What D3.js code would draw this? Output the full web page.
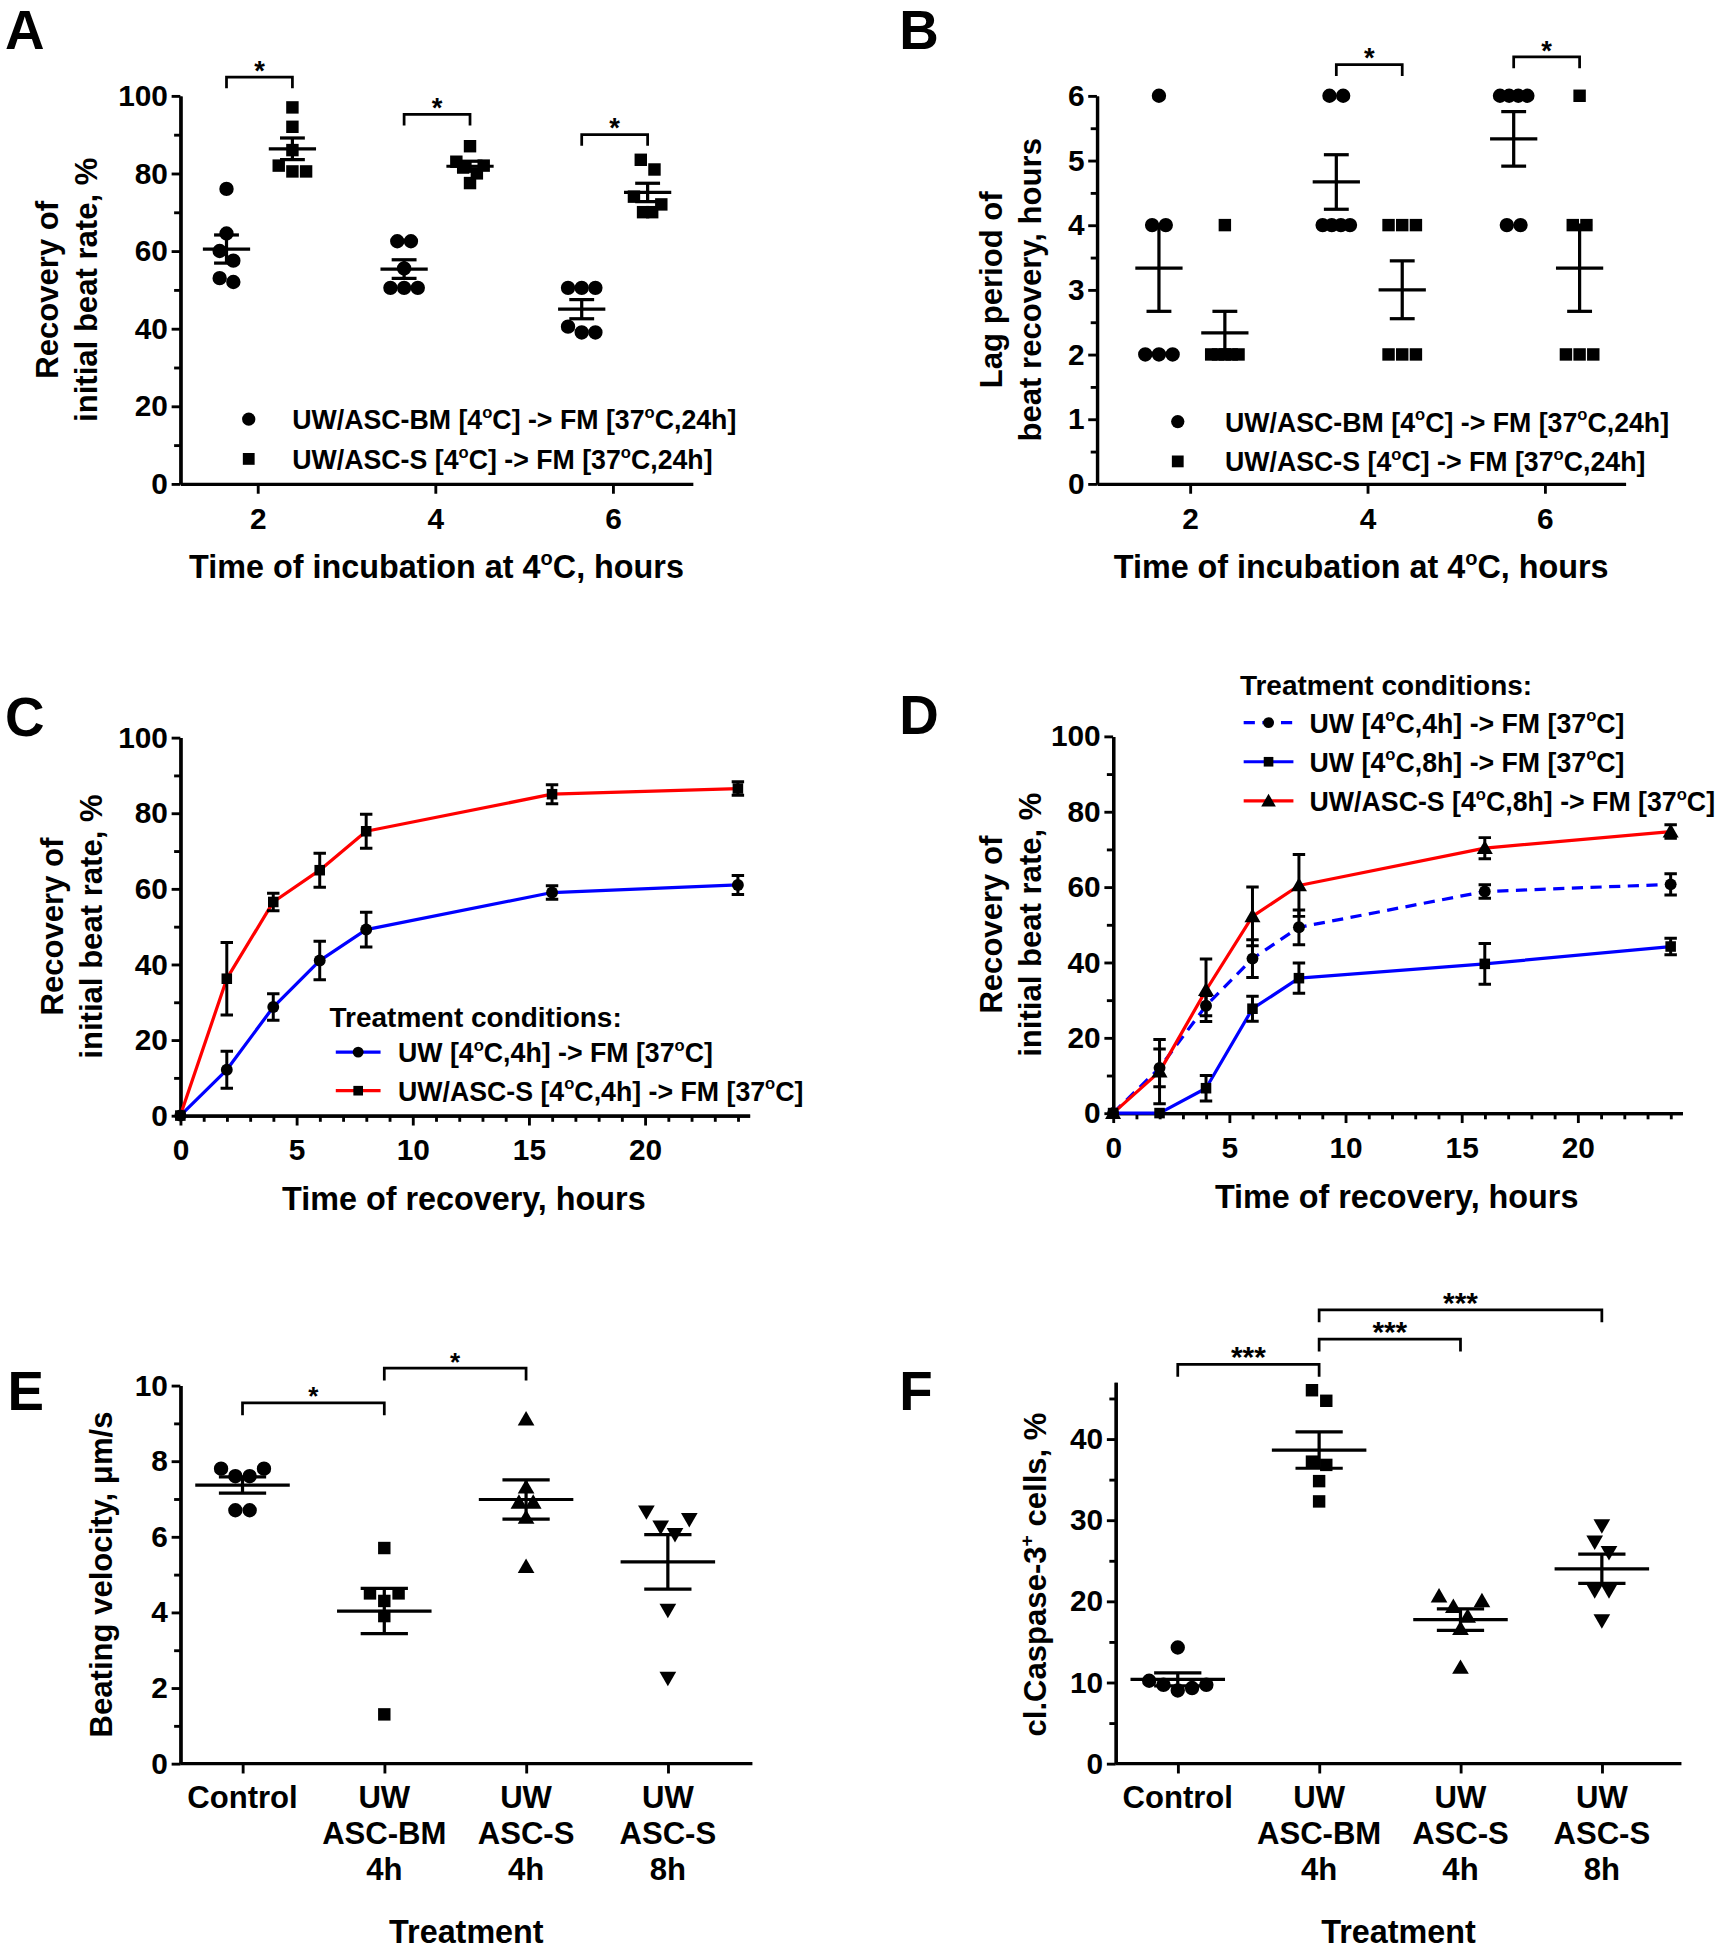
<!DOCTYPE html>
<html><head><meta charset="utf-8">
<script src="https://cdn.jsdelivr.net/npm/d3@7"></script>
<style>
body{margin:0;background:#fff}
text{font-family:"Liberation Sans",Arial,Helvetica,sans-serif;font-weight:bold;fill:#000}
</style>
</head><body><script>
// ---------------- DATA ----------------
const incubationHours = [2, 4, 6];
const recoveryBM = [[76, 64.5, 60, 57.5, 53, 52], [62.5, 62.5, 55.5, 50.5, 50.5, 50.5], [50.5, 50.5, 50.5, 40.5, 39, 39]];
const recoveryS  = [[97, 92, 86, 82, 80.5, 80.5], [87, 83, 82, 81.5, 80, 77.5], [83.5, 81, 74, 72, 70, 70]];
const lagBM = [[6, 4, 4, 2, 2, 2], [6, 6, 4, 4, 4, 4], [6, 6, 6, 6, 4, 4]];
const lagS  = [[4, 2, 2, 2, 2, 2], [4, 4, 4, 2, 2, 2], [6, 4, 4, 2, 2, 2]];
const sigA = [{h: 2, level: 104.8, label: "*"}, {h: 4, level: 95.2, label: "*"}, {h: 6, level: 90, label: "*"}];
const sigB = [{h: 4, level: 6.48, label: "*"}, {h: 6, level: 6.6, label: "*"}];
const legendAB = ["UW/ASC-BM [4°C] -> FM [37°C,24h]", "UW/ASC-S [4°C] -> FM [37°C,24h]"];

const recoveryTimes = [0, 2, 4, 6, 8, 16, 24];
const cUW4hMean   = [0, 12.1, 28.7, 41, 49.2, 59, 61];
const cUW4hSem    = [0, 4.9, 3.5, 5.1, 4.6, 1.8, 2.5];
const cASCS4hMean = [0, 36.2, 56.5, 64.9, 75.2, 85, 86.5];
const cASCS4hSem  = [0, 9.6, 2.3, 4.5, 4.5, 2.5, 1.8];
const legendC = ["UW [4°C,4h] -> FM [37°C]", "UW/ASC-S [4°C,4h] -> FM [37°C]"];

const dUW4hMean   = [0, 12, 28.5, 41, 49.3, 58.8, 60.7];
const dUW4hSem    = [0, 5, 2.7, 5, 4.6, 1.8, 2.8];
const dUW8hMean   = [0, 0, 6.6, 27.7, 35.8, 39.6, 44.2];
const dUW8hSem    = [0, 0, 3.4, 3.3, 4, 5.4, 2.2];
const dASCS8hMean = [0, 11, 32.6, 52.2, 60.4, 70.3, 74.7];
const dASCS8hSem  = [0, 8.5, 8.3, 7.8, 8.2, 2.8, 1.8];
const legendD = ["UW [4°C,4h] -> FM [37°C]", "UW [4°C,8h] -> FM [37°C]", "UW/ASC-S [4°C,8h] -> FM [37°C]"];

const treatments = [["Control"], ["UW", "ASC-BM", "4h"], ["UW", "ASC-S", "4h"], ["UW", "ASC-S", "8h"]];
const velocity = [[7.8, 7.8, 7.6, 7.6, 6.7, 6.7], [5.7, 4.5, 4.5, 4.3, 3.9, 1.3], [9.1, 7.3, 6.9, 6.9, 6.5, 5.2], [6.7, 6.5, 6.3, 6.1, 4.1, 2.3]];
const caspase = [[14.3, 10.2, 9.7, 9.7, 9.3, 9.0], [46, 44.7, 37.2, 36.8, 34.8, 32.3], [20.6, 20, 19.3, 18.1, 16.6, 11.8], [29.5, 27.5, 26.2, 21.5, 21.5, 17.8]];
const sigE = [{a: 0, b: 1, level: 9.54, label: "*"}, {a: 1, b: 2, level: 10.46, label: "*"}];
const sigF = [{a: 0, b: 1, level: 49.2, label: "***"}, {a: 1, b: 2, level: 52.3, label: "***"}, {a: 1, b: 3, level: 55.9, label: "***"}];

// ---------------- SETUP ----------------
const S = 1720 / 1383;
const svg = d3.select("body").append("svg").attr("width", 1720).attr("height", 1950);
svg.append("rect").attr("width", 1720).attr("height", 1950).attr("fill", "#fff");
const root = svg.append("g").attr("transform", `scale(${S})`);

const TICK_FS = 24, XT_FS = 26, YT_FS = 25, LEG_FS = 21.5, LEGT_FS = 22.5, LETTER_FS = 44, CAT_FS = 25, AX_W = 2.6;

function rich(t, str, fs) {
  const parts = str.split(/(°|\^\+)/);
  let back = 0;
  parts.forEach(p => {
    if (!p) return;
    if (p === "°" || p === "^+") {
      t.append("tspan").text(p === "°" ? "o" : "+").attr("font-size", fs * 0.62).attr("dy", back ? 0 : -fs * 0.42);
      back = fs * 0.42;
    } else {
      const s = t.append("tspan").text(p);
      if (back) { s.attr("dy", back); back = 0; }
    }
  });
  return t;
}
function txt(g, x, y, str, fs, anchor = "start", rot = false) {
  const t = g.append("text").attr("font-size", fs).attr("text-anchor", anchor);
  if (rot) t.attr("transform", `translate(${x},${y}) rotate(-90)`); else t.attr("x", x).attr("y", y);
  return rich(t, str, fs);
}
function styleAxis(ax) {
  ax.attr("font-family", null).attr("font-size", null);
  ax.select(".domain").attr("stroke", "#000").attr("stroke-width", AX_W);
  ax.selectAll(".tick line").attr("stroke", "#000").attr("stroke-width", 2.3);
  ax.selectAll(".tick text").attr("font-size", TICK_FS).attr("fill", "#000");
}
function yAxis(g, x0, y, major, minor) {
  const a = g.append("g").attr("transform", `translate(${x0},0)`)
    .call(d3.axisLeft(y).tickValues(major).tickSize(7).tickSizeOuter(0).tickPadding(3).tickFormat(d3.format("d")));
  styleAxis(a);
  const m = g.append("g").attr("transform", `translate(${x0},0)`)
    .call(d3.axisLeft(y).tickValues(minor).tickSize(5).tickSizeOuter(0).tickFormat(""));
  styleAxis(m);
}
function symbolPath(shape, size) {
  const map = {circle: d3.symbolCircle, square: d3.symbolSquare, triangle: d3.symbolTriangle, down: d3.symbolTriangle};
  return d3.symbol().type(map[shape]).size(size)();
}
function marker(g, shape, x, y, size) {
  const p = g.append("path").attr("d", symbolPath(shape, size)).attr("fill", "#000");
  if (shape === "down") p.attr("transform", `translate(${x},${y}) rotate(180)`);
  else if (shape === "triangle") p.attr("transform", `translate(${x},${y + 1})`);
  else p.attr("transform", `translate(${x},${y})`);
}
const SIZES = {circle: 105, square: 100, triangle: 78, down: 78};

// dot-plot layout: bins of overlapping points spread symmetrically
function dodge(values, y, cx, d, maxSpan = Infinity) {
  const pts = values.map(v => ({v, py: y(v)})).sort((a, b) => a.py - b.py);
  const bins = [];
  pts.forEach((p, i) => {
    if (i > 0 && p.py - pts[i - 1].py < d * 0.85) bins[bins.length - 1].push(p); else bins.push([p]);
  });
  bins.forEach(b => {
    const n = b.length;
    const step = n > 1 ? Math.min(d, maxSpan / (n - 1)) : 0;
    const offs = d3.range(n).map(i => (i - (n - 1) / 2) * step).sort((a, c) => Math.abs(c) - Math.abs(a) || a - c);
    b.slice().sort((a, c) => c.v - a.v).forEach((p, i) => p.px = cx + offs[i]);
  });
  return pts;
}
function meanSem(g, values, y, cx, halfMean, halfSem) {
  const m = d3.mean(values), se = d3.deviation(values) / Math.sqrt(values.length);
  const st = s => s.attr("stroke", "#000").attr("stroke-width", 2.6);
  st(g.append("line").attr("x1", cx - halfMean).attr("x2", cx + halfMean).attr("y1", y(m)).attr("y2", y(m)));
  st(g.append("line").attr("x1", cx).attr("x2", cx).attr("y1", y(m - se)).attr("y2", y(m + se)));
  st(g.append("line").attr("x1", cx - halfSem).attr("x2", cx + halfSem).attr("y1", y(m - se)).attr("y2", y(m - se)));
  st(g.append("line").attr("x1", cx - halfSem).attr("x2", cx + halfSem).attr("y1", y(m + se)).attr("y2", y(m + se)));
}
function bracket(g, x1, x2, yy, leg, label, fs) {
  g.append("path").attr("d", `M${x1},${yy + leg}V${yy}H${x2}V${yy + leg}`)
    .attr("fill", "none").attr("stroke", "#000").attr("stroke-width", 2.2);
  g.append("text").attr("x", (x1 + x2) / 2).attr("y", yy + fs * 0.1).attr("text-anchor", "middle")
    .attr("font-size", fs).text(label);
}

// ---------------- PANELS A & B ----------------
function panelAB(cfg) {
  const g = root.append("g");
  const x = d3.scaleLinear().domain(cfg.xd).range([cfg.x0, cfg.x1]);
  const y = d3.scaleLinear().domain(cfg.yd).range([cfg.yb, cfg.yt]);
  txt(g, cfg.letterX, cfg.letterY, cfg.letter, LETTER_FS);
  yAxis(g, cfg.x0, y, cfg.major, cfg.minor);
  const xa = g.append("g").attr("transform", `translate(0,${cfg.yb})`)
    .call(d3.axisBottom(x).tickValues(incubationHours).tickSize(8).tickSizeOuter(0).tickPadding(11).tickFormat(d3.format("d")));
  styleAxis(xa);
  txt(g, (cfg.x0 + cfg.x1) / 2, cfg.yb + 76, "Time of incubation at 4°C, hours", XT_FS, "middle");
  txt(g, cfg.ytX[0], (cfg.yt + cfg.yb) / 2, cfg.ytitle[0], YT_FS, "middle", true);
  txt(g, cfg.ytX[1], (cfg.yt + cfg.yb) / 2, cfg.ytitle[1], YT_FS, "middle", true);
  const groups = [{data: cfg.bm, off: -25, shape: "circle"}, {data: cfg.s, off: 28, shape: "square"}];
  groups.forEach(gr => {
    incubationHours.forEach((h, i) => {
      const cx = x(h) + gr.off;
      dodge(gr.data[i], y, cx, 11, 22).forEach(p => marker(g, gr.shape, p.px, p.py, SIZES[gr.shape]));
      meanSem(g, gr.data[i], y, cx, 19, 10);
    });
  });
  cfg.sig.forEach(s => bracket(g, x(s.h) - 25, x(s.h) + 28, y(s.level), 9, s.label, 22));
  legendAB.forEach((l, i) => {
    const yy = cfg.legY + i * 32;
    marker(g, groups[i].shape, cfg.legMX, yy, 90);
    txt(g, cfg.legTX, yy + 8, l, LEG_FS);
  });
}
panelAB({letter: "A", letterX: 4, letterY: 39, x0: 145, x1: 557, xd: [1.13, 6.9], yt: 77, yb: 389, yd: [0, 100],
  major: d3.range(0, 101, 20), minor: d3.range(10, 100, 20), ytX: [47, 78], ytitle: ["Recovery of", "initial beat rate, %"],
  bm: recoveryBM, s: recoveryS, sig: sigA, legY: 337, legMX: 200, legTX: 235});
panelAB({letter: "B", letterX: 723, letterY: 39, x0: 882, x1: 1307, xd: [0.95, 6.91], yt: 77, yb: 389, yd: [0, 6],
  major: d3.range(0, 7, 1), minor: d3.range(0.5, 6, 1), ytX: [806, 837], ytitle: ["Lag period of", "beat recovery, hours"],
  bm: lagBM, s: lagS, sig: sigB, legY: 339, legMX: 947, legTX: 985});

// ---------------- PANELS C & D ----------------
function panelCD(cfg) {
  const g = root.append("g");
  const x = d3.scaleLinear().domain([0, 24.5]).range([cfg.x0, cfg.x0 + 18.68 * 24.5]);
  const y = d3.scaleLinear().domain([0, 100]).range([cfg.yb, cfg.yt]);
  txt(g, cfg.letterX, cfg.letterY, cfg.letter, LETTER_FS);
  yAxis(g, cfg.x0, y, d3.range(0, 101, 20), d3.range(10, 100, 20));
  const xa = g.append("g").attr("transform", `translate(0,${cfg.yb})`)
    .call(d3.axisBottom(x).tickValues([0, 5, 10, 15, 20]).tickSize(8).tickSizeOuter(0).tickPadding(11));
  styleAxis(xa);
  const xm = g.append("g").attr("transform", `translate(0,${cfg.yb})`)
    .call(d3.axisBottom(x).tickValues(d3.range(1, 25).filter(v => v % 5)).tickSize(5).tickSizeOuter(0).tickFormat(""));
  styleAxis(xm);
  txt(g, cfg.x0 + 228, cfg.yb + 76, "Time of recovery, hours", XT_FS, "middle");
  const yc = (cfg.yt + cfg.yb) / 2;
  txt(g, cfg.ytX[0], yc, "Recovery of", YT_FS, "middle", true);
  txt(g, cfg.ytX[1], yc, "initial beat rate, %", YT_FS, "middle", true);
  const line = d3.line().x((d, i) => x(recoveryTimes[i])).y(d => y(d));
  cfg.series.forEach(s => {
    g.append("path").attr("d", line(s.mean)).attr("fill", "none").attr("stroke", s.color)
      .attr("stroke-width", 2.6).attr("stroke-linejoin", "round").attr("stroke-dasharray", s.dash ? "9,6" : null);
  });
  cfg.series.forEach(s => {
    s.mean.forEach((m, i) => {
      const cx = x(recoveryTimes[i]), e = s.sem[i];
      if (e > 0) {
        g.append("path").attr("d", `M${cx - 5},${y(m - e)}H${cx + 5}M${cx},${y(m - e)}V${y(m + e)}M${cx - 5},${y(m + e)}H${cx + 5}`)
          .attr("stroke", "#000").attr("stroke-width", 2.4).attr("fill", "none");
      }
    });
  });
  cfg.series.forEach(s => s.mean.forEach((m, i) => marker(g, s.shape, x(recoveryTimes[i]), y(m), 72)));
  // legend
  txt(g, cfg.leg.tx, cfg.leg.ty, "Treatment conditions:", LEGT_FS);
  cfg.series.forEach((s, i) => {
    const yy = cfg.leg.y0 + i * cfg.leg.dy;
    g.append("line").attr("x1", cfg.leg.lx).attr("x2", cfg.leg.lx + cfg.leg.lw).attr("y1", yy).attr("y2", yy)
      .attr("stroke", s.color).attr("stroke-width", 2.6).attr("stroke-dasharray", s.dash ? "9,6" : null);
    marker(g, s.shape, cfg.leg.lx + cfg.leg.lw / 2, yy, 60);
    txt(g, cfg.leg.textX, yy + 8, s.label, LEG_FS);
  });
}
panelCD({letter: "C", letterX: 4, letterY: 592, x0: 145, yt: 593, yb: 897, ytX: [51, 82],
  series: [
    {mean: cUW4hMean, sem: cUW4hSem, color: "#0000ff", dash: false, shape: "circle", label: legendC[0]},
    {mean: cASCS4hMean, sem: cASCS4hSem, color: "#ff0000", dash: false, shape: "square", label: legendC[1]}],
  leg: {tx: 265, ty: 826, y0: 846, dy: 31, lx: 270, lw: 36, textX: 320}});
panelCD({letter: "D", letterX: 723, letterY: 590, x0: 895, yt: 592, yb: 895, ytX: [806, 837],
  series: [
    {mean: dUW4hMean, sem: dUW4hSem, color: "#0000ff", dash: true, shape: "circle", label: legendD[0]},
    {mean: dUW8hMean, sem: dUW8hSem, color: "#0000ff", dash: false, shape: "square", label: legendD[1]},
    {mean: dASCS8hMean, sem: dASCS8hSem, color: "#ff0000", dash: false, shape: "triangle", label: legendD[2]}],
  leg: {tx: 997, ty: 559, y0: 581, dy: 31.5, lx: 1000, lw: 40, textX: 1053}});

// ---------------- PANELS E & F ----------------
const shapesEF = ["circle", "square", "triangle", "down"];
function panelEF(cfg) {
  const g = root.append("g");
  const x = d3.scalePoint().domain(d3.range(4)).range(cfg.xr);
  const y = d3.scaleLinear().domain(cfg.yd).range([1418, cfg.yt]);
  txt(g, cfg.letterX, cfg.letterY, cfg.letter, LETTER_FS);
  yAxis(g, cfg.x0, y, cfg.major, cfg.minor);
  g.append("line").attr("x1", cfg.x0).attr("x2", cfg.x1).attr("y1", 1418).attr("y2", 1418).attr("stroke", "#000").attr("stroke-width", AX_W);
  const xa = g.append("g").attr("transform", "translate(0,1418)")
    .call(d3.axisBottom(x).tickSize(8).tickSizeOuter(0).tickFormat(""));
  styleAxis(xa);
  xa.select(".domain").remove();
  d3.range(4).forEach(i => {
    const t = g.append("text").attr("text-anchor", "middle").attr("font-size", CAT_FS);
    treatments[i].forEach((l, k) => t.append("tspan").attr("x", x(i)).attr("y", 1454 + k * 29).text(l));
  });
  txt(g, (cfg.x0 + cfg.x1) / 2, 1562, "Treatment", XT_FS, "middle");
  txt(g, cfg.ytX, 1266, cfg.ytitle, YT_FS, "middle", true);
  cfg.data.forEach((vals, i) => {
    dodge(vals, y, x(i), 11.5).forEach(p => marker(g, shapesEF[i], p.px, p.py, SIZES[shapesEF[i]]));
    meanSem(g, vals, y, x(i), 38, 19);
  });
  cfg.sig.forEach(s => bracket(g, x(s.a), x(s.b), y(s.level), 10, s.label, cfg.starFs));
}
panelEF({letter: "E", letterX: 6, letterY: 1134, x0: 145, x1: 605, xr: [195, 537], yt: 1114, yd: [0, 10],
  major: d3.range(0, 11, 2), minor: d3.range(1, 10, 2), ytX: 90, ytitle: "Beating velocity, μm/s",
  data: velocity, sig: sigE, starFs: 21});
panelEF({letter: "F", letterX: 723, letterY: 1134, x0: 897, x1: 1352, xr: [947, 1288], yt: 1418 - 47 * 6.525, yd: [0, 47],
  major: d3.range(0, 41, 10), minor: d3.range(5, 46, 10), ytX: 841, ytitle: "cl.Caspase-3^+ cells, %",
  data: caspase, sig: sigF, starFs: 24});
</script></body></html>
